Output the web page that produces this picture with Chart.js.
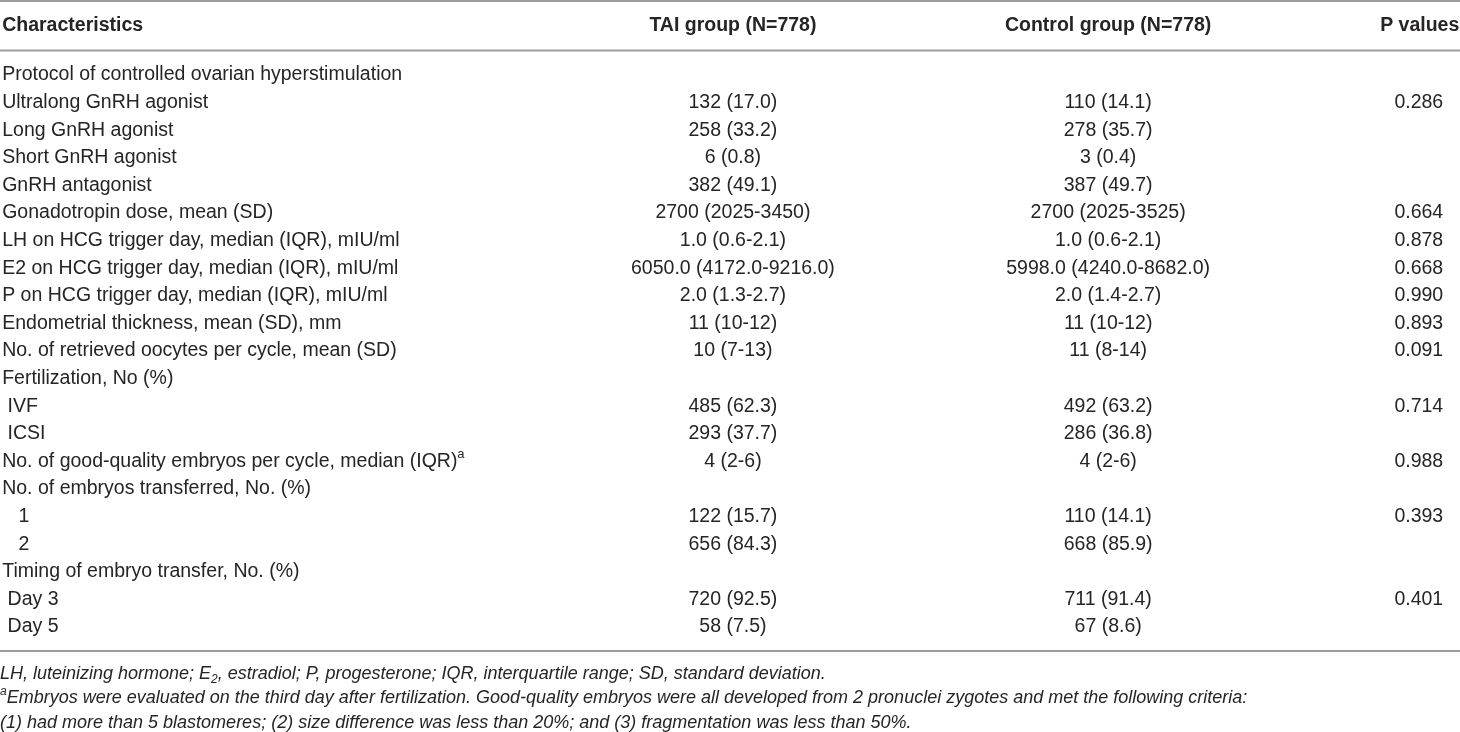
<!DOCTYPE html>
<html>
<head>
<meta charset="utf-8">
<script src="https://cdn.jsdelivr.net/npm/chart.js@4.4.1/dist/chart.umd.min.js"></script>
<style>
  html, body { margin: 0; padding: 0; background: #fff; }
  #tbl { display: block; }
</style>
</head>
<body>
<canvas id="tbl" width="1460" height="732"></canvas>
<script>
var headers = ["Characteristics", "TAI group (N=778)", "Control group (N=778)", "P values"];

var rowLabels = [
  "Protocol of controlled ovarian hyperstimulation",
  "Ultralong GnRH agonist",
  "Long GnRH agonist",
  "Short GnRH agonist",
  "GnRH antagonist",
  "Gonadotropin dose, mean (SD)",
  "LH on HCG trigger day, median (IQR), mIU/ml",
  "E2 on HCG trigger day, median (IQR), mIU/ml",
  "P on HCG trigger day, median (IQR), mIU/ml",
  "Endometrial thickness, mean (SD), mm",
  "No. of retrieved oocytes per cycle, mean (SD)",
  "Fertilization, No (%)",
  " IVF",
  " ICSI",
  "No. of good-quality embryos per cycle, median (IQR)^a",
  "No. of embryos transferred, No. (%)",
  "   1",
  "   2",
  "Timing of embryo transfer, No. (%)",
  " Day 3",
  " Day 5"
];

var taiValues = ["", "132 (17.0)", "258 (33.2)", "6 (0.8)", "382 (49.1)", "2700 (2025-3450)",
  "1.0 (0.6-2.1)", "6050.0 (4172.0-9216.0)", "2.0 (1.3-2.7)", "11 (10-12)", "10 (7-13)", "",
  "485 (62.3)", "293 (37.7)", "4 (2-6)", "", "122 (15.7)", "656 (84.3)", "", "720 (92.5)", "58 (7.5)"];

var controlValues = ["", "110 (14.1)", "278 (35.7)", "3 (0.4)", "387 (49.7)", "2700 (2025-3525)",
  "1.0 (0.6-2.1)", "5998.0 (4240.0-8682.0)", "2.0 (1.4-2.7)", "11 (10-12)", "11 (8-14)", "",
  "492 (63.2)", "286 (36.8)", "4 (2-6)", "", "110 (14.1)", "668 (85.9)", "", "711 (91.4)", "67 (8.6)"];

var pValues = ["", "0.286", "", "", "", "0.664", "0.878", "0.668", "0.990", "0.893", "0.091", "",
  "0.714", "", "0.988", "", "0.393", "", "", "0.401", ""];

var footnotes = [
  "LH, luteinizing hormone; E_2, estradiol; P, progesterone; IQR, interquartile range; SD, standard deviation.",
  "^aEmbryos were evaluated on the third day after fertilization. Good-quality embryos were all developed from 2 pronuclei zygotes and met the following criteria:",
  "(1) had more than 5 blastomeres; (2) size difference was less than 20%; and (3) fragmentation was less than 50%."
];

// column layout (x scale runs 0..100 across the page)
var colX = [0.15, 50.2, 75.9, 98.85];
var headX = [0.15, 50.2, 75.9, 99.95];
var colAlign = ["left", "center", "center", "right"];
var headAlign = ["left", "center", "center", "right"];

var FONT = '"Liberation Sans", Arial, sans-serif';
var ink = "#262424";
var rule = "#9c9c9c";

function toPoints(values, col) {
  var pts = [];
  for (var i = 0; i < values.length; i++) {
    if (values[i] !== "") pts.push({ x: colX[col], y: rowLabels[i], txt: values[i] });
  }
  return pts;
}

// draws text with ^x superscript and _x subscript marks
function drawRich(ctx, text, x, y, align, size, style) {
  var parts = [];
  var buf = "";
  for (var i = 0; i < text.length; i++) {
    var c = text[i];
    if ((c === "^" || c === "_") && i + 1 < text.length) {
      if (buf) parts.push({ t: buf, k: "n" });
      buf = "";
      parts.push({ t: text[i + 1], k: c === "^" ? "sup" : "sub" });
      i++;
    } else {
      buf += c;
    }
  }
  if (buf) parts.push({ t: buf, k: "n" });

  var small = Math.round(size * 0.65);
  var total = 0;
  parts.forEach(function(p) {
    ctx.font = style + " " + (p.k === "n" ? size : small) + "px " + FONT;
    p.w = ctx.measureText(p.t).width;
    total += p.w;
  });
  var cx = x;
  if (align === "center") cx = x - total / 2;
  if (align === "right") cx = x - total;
  ctx.textAlign = "left";
  ctx.textBaseline = "middle";
  parts.forEach(function(p) {
    var dy = 0;
    if (p.k === "sup") dy = -size * 0.38;
    if (p.k === "sub") dy = size * 0.28;
    ctx.font = style + " " + (p.k === "n" ? size : small) + "px " + FONT;
    ctx.fillText(p.t, cx, y + dy);
    cx += p.w;
  });
}

var tablePlugin = {
  id: "tablePlugin",
  afterDatasetsDraw: function(chart) {
    var ctx = chart.ctx;
    var xs = chart.scales.x;
    var ys = chart.scales.y;
    ctx.save();
    ctx.fillStyle = ink;

    // body cells, placed at the points of each dataset
    chart.data.datasets.forEach(function(ds, di) {
      var meta = chart.getDatasetMeta(di);
      meta.data.forEach(function(el, j) {
        drawRich(ctx, ds.data[j].txt, el.x, el.y, colAlign[di], 19.5, "normal");
      });
    });

    // header row
    var step = ys.getPixelForValue(1) - ys.getPixelForValue(0);
    var headY = ys.top - step * 1.78;
    headers.forEach(function(h, k) {
      drawRich(ctx, h, xs.getPixelForValue(headX[k]), headY, headAlign[k], 19.5, "bold");
    });

    // rules
    ctx.strokeStyle = rule;
    ctx.lineWidth = 2;
    [1, ys.top - step * 0.89, ys.bottom + step * 0.87].forEach(function(yy) {
      ctx.beginPath();
      ctx.moveTo(xs.left, yy);
      ctx.lineTo(xs.right, yy);
      ctx.stroke();
    });

    // footnotes
    footnotes.forEach(function(f, k) {
      drawRich(ctx, f, xs.getPixelForValue(0), ys.bottom + step * (1.71 + 0.88 * k), "left", 18, "italic");
    });
    ctx.restore();
  }
};

new Chart(document.getElementById("tbl"), {
  type: "scatter",
  data: {
    datasets: [
      { label: "Characteristics", data: toPoints(rowLabels, 0), pointRadius: 0 },
      { label: "TAI group", data: toPoints(taiValues, 1), pointRadius: 0 },
      { label: "Control group", data: toPoints(controlValues, 2), pointRadius: 0 },
      { label: "P values", data: toPoints(pValues, 3), pointRadius: 0 }
    ]
  },
  options: {
    responsive: false,
    animation: false,
    events: [],
    layout: { padding: { top: 75, bottom: 105, left: 0, right: 0 } },
    plugins: { legend: { display: false }, tooltip: { enabled: false } },
    scales: {
      x: { type: "linear", min: 0, max: 100, display: false },
      y: { type: "category", labels: rowLabels, offset: false, display: false }
    }
  },
  plugins: [tablePlugin]
});
</script>
</body>
</html>
